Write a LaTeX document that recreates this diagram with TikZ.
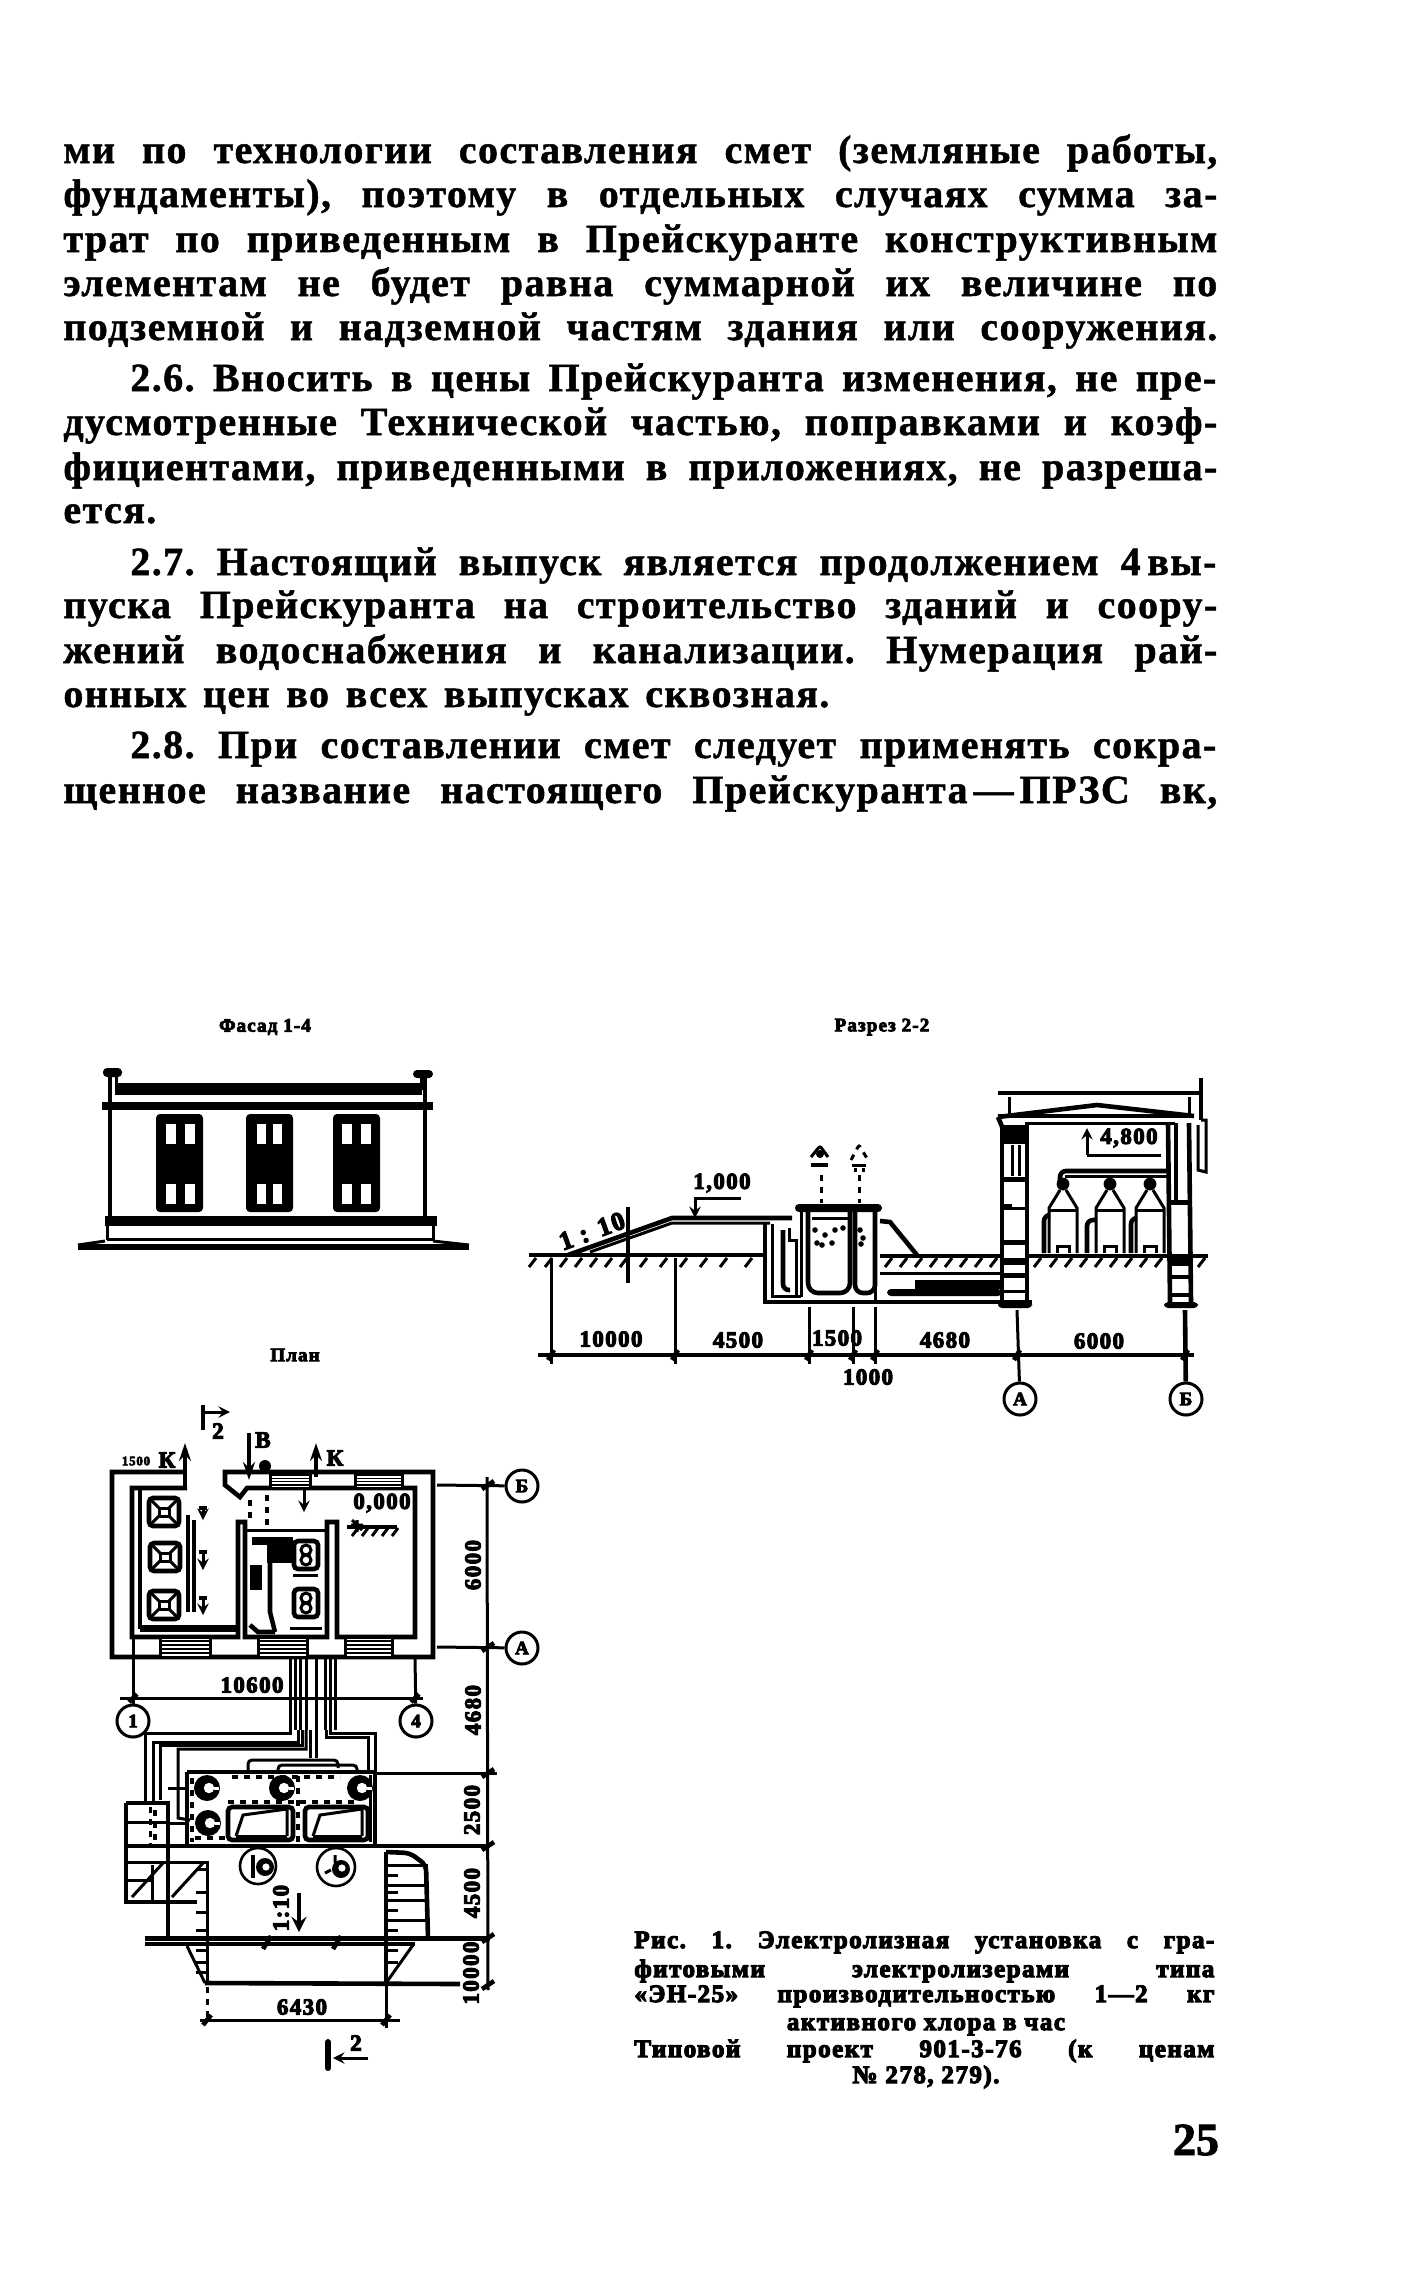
\documentclass[tikz,border=0pt]{standalone}
\usepackage{fontspec}
\setmainfont{Liberation Serif}
\newfontfamily\bodyfont[FakeBold=1.2,LetterSpace=3.5]{Liberation Serif Bold}
\newfontfamily\capfont[FakeBold=4.5,LetterSpace=6]{Liberation Serif Bold}
\newfontfamily\pagefont[FakeBold=2]{Liberation Serif Bold}
\usetikzlibrary{calc,arrows.meta}
\tikzset{>=stealth,
  thinl/.style={line width=0.8pt,black},
  med/.style={line width=1.5pt,black},
  fat/.style={line width=2.3pt,black},
  bodyrow/.style={anchor=base west,inner sep=0pt,font=\fontsize{20}{22}\bodyfont},
  caprow/.style={anchor=base west,inner sep=0pt,font=\fontsize{12.5}{14}\capfont},
  dimlabel/.style={inner sep=0pt,font=\fontsize{11.5}{12}\capfont},
  smalltitle/.style={inner sep=0pt,font=\fontsize{9.5}{10}\capfont},
  axiscircle/.style={circle,draw=black,line width=1.5pt,fill=white,minimum size=16pt,inner sep=0pt,font=\fontsize{9.5}{10}\capfont}}
\newcommand{\rowfit}[2]{\makebox[#1pt][s]{\frenchspacing #2}}

\begin{document}
\begin{tikzpicture}[x=0.5pt,y=-0.5pt]
  \useasboundingbox (0,0) rectangle (1409,2283);
  \fill[white] (0,0) rectangle (1409,2283);
  % page text
  \node[bodyrow] at (63,163) (t1) {\rowfit{577}{ми по технологии составления смет (земляные работы,}};
  \node[bodyrow] at (63,207) (t2) {\rowfit{577}{фундаменты), поэтому в отдельных случаях сумма за-}};
  \node[bodyrow] at (63,252) (t3) {\rowfit{577}{трат по приведенным в Прейскуранте конструктивным}};
  \node[bodyrow] at (63,296) (t4) {\rowfit{577}{элементам не будет равна суммарной их величине по}};
  \node[bodyrow] at (63,340) (t5) {\rowfit{577}{подземной и надземной частям здания или сооружения.}};
  \node[bodyrow] at (130,391) (t6) {\rowfit{543}{2.6. Вносить в цены Прейскуранта изменения, не пре-}};
  \node[bodyrow] at (63,435) (t7) {\rowfit{577}{дусмотренные Технической частью, поправками и коэф-}};
  \node[bodyrow] at (63,480) (t8) {\rowfit{577}{фициентами, приведенными в приложениях, не разреша-}};
  \node[bodyrow] at (63,523) (t9) {ется.};
  \node[bodyrow] at (130,575) (t10) {\rowfit{543}{2.7. Настоящий выпуск является продолжением 4\,вы-}};
  \node[bodyrow] at (63,618) (t11) {\rowfit{577}{пуска Прейскуранта на строительство зданий и соору-}};
  \node[bodyrow] at (63,663) (t12) {\rowfit{577}{жений водоснабжения и канализации. Нумерация рай-}};
  \node[bodyrow] at (63,707) (t13) {\rowfit{383}{онных цен во всех выпусках сквозная.}};
  \node[bodyrow] at (130,758) (t14) {\rowfit{543}{2.8. При составлении смет следует применять сокра-}};
  \node[bodyrow] at (63,803) (t15) {\rowfit{577}{щенное название настоящего Прейскуранта\kern3pt—\kern3pt ПРЗС вк,}};
  % caption
  \node[caprow] at (634,1948) (c1) {\rowfit{290}{Рис. 1. Электролизная установка с гра-}};
  \node[caprow] at (634,1977) (c2) {\rowfit{290}{фитовыми электролизерами типа}};
  \node[caprow] at (634,2002) (c3) {\rowfit{290}{«ЭН-25» производительностью 1—2 кг}};
  \node[caprow,anchor=base] at (926,2030) (c4) {активного хлора в час};
  \node[caprow] at (634,2057) (c5) {\rowfit{290}{Типовой проект 901-3-76 (к ценам}};
  \node[caprow,anchor=base] at (926,2083) (c6) {№ 278, 279).};
  \node[anchor=base,inner sep=0pt,font=\fontsize{23}{24}\pagefont] at (1196,2155) (pageno) {25};
  % facade
  \node[smalltitle] at (265,1027) (facadetitle) {Фасад 1-4};
  \draw[fat] (110,1072)--(110,1216);
  \draw[fat] (425,1074)--(425,1216);
  \fill[black,rounded corners=2pt] (103,1068) rectangle (122,1077);
  \fill[black,rounded corners=2pt] (413,1070) rectangle (433,1078);
  \draw[med] (116,1077)--(116,1090);
  \draw[med] (421,1078)--(421,1090);
  \fill[black] (115,1083) rectangle (422,1095);
  \fill[black] (102,1102) rectangle (433,1110);
  \fill[black] (105,1216) rectangle (437,1226);
  \draw[med] (107,1226)--(107,1240);
  \draw[med] (433,1226)--(433,1240);
  \draw[med] (107,1239)--(433,1239);
  \fill[black] (78,1244) rectangle (469,1250);
  \draw[med] (78,1245)--(105,1241);
  \draw[med] (433,1241)--(469,1245);
  \foreach \wx/\pa/\pb/\pw in {156/166/185/10,246/257/273/9,333/342/361/10}{
    \fill[black,rounded corners=2pt] (\wx,1114) rectangle (\wx+47,1212);
    \foreach \py in {1124,1184}{
      \fill[white] (\pa,\py) rectangle (\pa+\pw,\py+20);
      \fill[white] (\pb,\py) rectangle (\pb+\pw,\py+20);
    }
  }
  % section
  \node[smalltitle] at (882,1027) (sectiontitle) {Разрез 2-2};
  \draw[fat] (529,1255)--(765,1255);
  \draw[fat] (880,1256)--(1002,1256);
  \draw[fat] (1028,1256)--(1208,1256);
  \foreach \hx in {529,545,560,575,590,605,620,640,660,680,700,720,745}
    \draw[med] (\hx,1267)--(\hx+7,1258);
  \foreach \hx in {885,900,915,930,945,960,975,990,1034,1050,1065,1080,1095,1110,1125,1140,1155,1198}
    \draw[med] (\hx,1267)--(\hx+7,1258);
  \draw[fat] (568,1255)--(672,1218)--(792,1218);
  \draw[med] (590,1252)--(672,1223)--(770,1223);
  \draw[fat] (628,1207)--(628,1283);
  \node[dimlabel,rotate=20,font=\fontsize{13}{14}\capfont] at (592,1231) (slopelabel) {1 : 10};
  \node[dimlabel] at (722,1183) (levelone) {1,000};
  \draw[med,->] (741,1198)--(695,1198)--(695,1218);
  % pit and vessels
  \draw[fat] (765,1222)--(765,1302)--(1032,1302);
  \draw[med] (772,1224)--(772,1296)--(801,1296);
  \draw[fat,rounded corners=3pt] (783,1230)--(783,1290)--(790,1290);
  \draw[med] (789,1228)--(789,1240)--(796,1240)--(796,1296);
  \draw[med] (801,1212)--(801,1297);
  \draw[fat,rounded corners=5pt] (808,1212)--(808,1293)--(850,1293)--(850,1212);
  \draw[fat,rounded corners=4pt] (855,1212)--(855,1293)--(875,1293)--(875,1212);
  \draw[med] (875,1222)--(875,1302);
  \fill[black,rounded corners=2pt] (795,1204) rectangle (882,1212);
  \draw[med] (812,1218)--(850,1218);
  \foreach \bx/\by in {815/1230,825/1235,835/1230,843/1228,822/1245,832/1243,817/1243,860/1230,863/1238,861/1244}
    \fill[black] (\bx,\by) circle (1.4pt);
  \draw[fat] (880,1221)--(890,1222)--(917,1255);
  \draw[med] (880,1273)--(1002,1273);
  \fill[black,rounded corners=2pt] (887,1289) rectangle (1002,1296);
  \foreach \py in {1281,1284,1287}
    \draw[med] (915,\py)--(1002,\py);
  % vent symbols
  \draw[med,dashed] (821,1175)--(821,1203);
  \draw[med,dashed] (859,1175)--(859,1203);
  \draw[med,rounded corners=1pt] (811,1157)--(820,1146)--(828,1157);
  \fill[black] (820,1154) circle (2pt);
  \fill[black] (811,1163) rectangle (828,1167);
  \draw[med,dashed,rounded corners=1pt] (851,1160)--(859,1145)--(868,1160);
  \draw[med] (852,1165)--(866,1165);
  \draw[med,dashed] (855,1168)--(855,1172);
  \draw[med,dashed] (863,1168)--(863,1172);
  % walls
  \draw[fat] (1002,1125)--(1002,1302);
  \draw[fat] (1027,1125)--(1027,1302);
  \draw[med] (1012,1145)--(1012,1176);
  \draw[med] (1019,1145)--(1019,1176);
  \foreach \ya/\yb in {1125/1144,1177/1182,1207/1210,1240/1245,1258/1265,1273/1278,1290/1293}
    \fill[black] (1002,\ya) rectangle (1027,\yb);
  \draw[med] (1004,1205)--(1012,1205);
  \fill[black,rounded corners=2pt] (998,1302) rectangle (1032,1308);
  \draw[fat] (1168,1123)--(1170,1302);
  \draw[fat] (1176,1123)--(1176,1200);
  \draw[fat] (1189,1123)--(1191,1302);
  \foreach \ya/\yb in {1258/1266,1275/1279,1293/1297,1200/1205}
    \fill[black] (1170,\ya) rectangle (1191,\yb);
  \fill[black,rounded corners=2pt] (1164,1302) rectangle (1198,1308);
  \draw[fat] (1201,1078)--(1201,1120);
  \draw[med] (1198,1125)--(1198,1170)--(1206,1172)--(1206,1120)--(1201,1120);
  % roof
  \draw[fat] (998,1093)--(1203,1093);
  \draw[med] (1009,1097)--(1009,1115);
  \draw[med] (1189,1097)--(1189,1115);
  \draw[fat] (998,1117)--(1097,1105)--(1194,1116);
  \draw[fat] (998,1116)--(1194,1116);
  \fill[black] (1025,1122) rectangle (1175,1125);
  \draw[fat] (998,1117)--(1003,1129);
  % bottles
  \draw[med,->] (1087,1155)--(1087,1128);
  \draw[med] (1161,1155)--(1087,1155);
  \node[dimlabel] at (1129,1138) (levelroof) {4,800};
  \draw[fat,rounded corners=3pt] (1060,1185)--(1060,1171)--(1170,1171);
  \draw[med] (1065,1176)--(1170,1176);
  \foreach \bn/\bx in {1/1063,2/1110,3/1150}{
    \fill[black] (\bx,1184) circle (3.2pt);
    \draw[med] (\bx-3,1190)--(\bx-14,1208)--(\bx-14,1253);
    \draw[med] (\bx+3,1190)--(\bx+14,1208)--(\bx+14,1253);
    \draw[med] (\bx-14,1210)--(\bx+14,1210);
    \draw[med] (\bx-6,1253)--(\bx-6,1246)--(\bx+6,1246)--(\bx+6,1253);
  }
  \draw[fat,rounded corners=3pt] (1044,1253)--(1044,1215)--(1048,1215);
  \draw[fat,rounded corners=3pt] (1087,1253)--(1087,1220)--(1095,1220);
  \draw[fat,rounded corners=3pt] (1131,1253)--(1131,1218)--(1135,1218);
  % section dimensions
  \coordinate (footA) at (1017,1310);
  \coordinate (footB) at (1185,1310);
  \node[axiscircle] at (1020,1399) (axisA) {А};
  \node[axiscircle] at (1186,1399) (axisB) {Б};
  \draw[med] (footA)--(axisA);
  \draw[fat] (footB)--(axisB);
  \draw[fat] (538,1355)--(1194,1355);
  \foreach \dx/\dy in {551/1258,675/1258,809/1307,853/1307,875/1307}
    \draw[med] (\dx,\dy)--(\dx,1364);
  \foreach \dx in {551,675,809,853,875,1017,1185}
    \draw[fat] (\dx-3,1360)--(\dx+3,1350);
  \node[dimlabel] at (611,1339) (d1) {10000};
  \node[dimlabel] at (738,1340) (d2) {4500};
  \node[dimlabel] at (837,1338) (d3) {1500};
  \node[dimlabel] at (945,1340) (d4) {4680};
  \node[dimlabel] at (1099,1341) (d5) {6000};
  \node[dimlabel] at (868,1377) (d6) {1000};
  % plan
  \node[smalltitle] at (295,1355) (plantitle) {План};
  \draw[fat] (185,1472)--(112,1472)--(112,1657)--(433,1657)--(433,1472)--(225,1472)--(225,1485)--(240,1497)--(247,1488)--(415,1488)--(415,1637)--(337,1637)--(337,1522)--(327,1522)--(327,1637)--(245,1637)--(245,1522)--(238,1522)--(238,1637)--(132,1637)--(132,1488)--(187,1488);
  \draw[fat] (140,1490)--(140,1627)--(238,1627);
  \fill[black] (140,1625) rectangle (238,1632);
  \foreach \wa/\wb/\ya/\yb in {160/210/1637/1657,258/307/1637/1657,345/392/1637/1657,270/310/1472/1488,355/402/1472/1488}{
    \fill[white] (\wa,\ya) rectangle (\wb,\yb);
    \draw[med] (\wa,\ya)--(\wa,\yb);
    \draw[med] (\wb,\ya)--(\wb,\yb);
    \foreach \wf in {0.2,0.4,0.6,0.8}
      \draw[thinl] (\wa,{\ya+\wf*(\yb-\ya)})--(\wb,{\ya+\wf*(\yb-\ya)});
    \draw[med] (\wa,\ya)--(\wb,\ya);
    \draw[med] (\wa,\yb)--(\wb,\yb);
  }
  \foreach \cx/\cy in {164/1512,165/1557,164/1605}{
    \draw[fat,rounded corners=2pt] (\cx-15,\cy-14) rectangle (\cx+15,\cy+14);
    \draw[med] (\cx-5,\cy-4) rectangle (\cx+5,\cy+4);
    \draw[med] (\cx-14,\cy-13)--(\cx-5,\cy-4) (\cx+14,\cy-13)--(\cx+5,\cy-4) (\cx-14,\cy+13)--(\cx-5,\cy+4) (\cx+14,\cy+13)--(\cx+5,\cy+4);
  }
  \draw[fat] (188,1515)--(188,1612);
  \draw[fat] (194,1520)--(194,1612);
  \foreach \tya/\tyb in {1508/1520,1552/1570,1598/1615}{
    \draw[med,->] (203,\tya)--(203,\tyb);
    \draw[fat] (199,\tya)--(207,\tya);
  }
  \fill[black] (267,1537) rectangle (293,1563);
  \fill[black] (252,1537) rectangle (270,1545);
  \draw[med] (247,1530)--(325,1530);
  \draw[fat] (270,1563)--(270,1612)--(275,1632);
  \draw[fat] (250,1625)--(258,1632)--(275,1632);
  \fill[black] (250,1565) rectangle (262,1590);
  \foreach \mcy in {1555,1603}{
    \draw[fat,rounded corners=2pt] (294,\mcy-14) rectangle (318,\mcy+14);
    \draw[med] (306,\mcy-5) circle (2.5pt);
    \draw[med] (306,\mcy+5) circle (2.5pt);
  }
  \draw[med] (293,1575)--(318,1575);
  \draw[med] (290,1628)--(322,1628);
  \draw[fat,dashed] (250,1500)--(250,1520);
  \draw[fat,dashed] (267,1495)--(267,1525);
  % plan arrows
  \draw[fat,-{Stealth[length=9pt,width=6pt]}] (249,1433)--(249,1480);
  \node[dimlabel] at (263,1440) (markB) {В};
  \draw[fat,-{Stealth[length=9pt,width=6pt]}] (316,1477)--(316,1443);
  \node[dimlabel] at (335,1458) (markK) {К};
  \draw[fat,-{Stealth[length=9pt,width=6pt]}] (185,1490)--(185,1443);
  \node[dimlabel] at (167,1460) (markKleft) {К};
  \node[dimlabel,font=\fontsize{6.5}{8}\capfont] at (136,1461) (lowlevel) {1500};
  \draw[fat] (203,1405)--(203,1430);
  \draw[med,->] (203,1412)--(230,1412);
  \node[dimlabel] at (218,1431) (cutone) {2};
  \fill[black] (265,1466) circle (3pt);
  \draw[med,->] (304,1490)--(304,1512);
  \node[dimlabel] at (382,1503) (levelzero) {0,000};
  \draw[fat] (347,1527)--(397,1527);
  \foreach \hx in {352,362,372,382,392}
    \draw[med] (\hx,1536)--(\hx+6,1528);
  \draw[med] (357,1520)--(357,1532) (351,1525)--(363,1525) (352,1520)--(362,1530);
  % plan axes
  \coordinate (rowBend) at (437,1485);
  \coordinate (rowAend) at (437,1647);
  \node[axiscircle] at (522,1486) (axisBplan) {Б};
  \node[axiscircle] at (522,1648) (axisAplan) {А};
  \draw[med] (rowBend)--(axisBplan);
  \draw[med] (rowAend)--(axisAplan);
  \node[axiscircle] at (133,1721) (axisone) {1};
  \node[axiscircle] at (416,1721) (axisfour) {4};
  \coordinate (colone) at (133,1637);
  \coordinate (colfour) at (415,1657);
  \draw[med] (colone)--(axisone);
  \draw[med] (colfour)--(axisfour);
  \draw[med] (120,1698)--(423,1698);
  \foreach \dx in {133,415}
    \draw[fat] (\dx-4,1702)--(\dx+4,1694);
  \node[dimlabel] at (252,1685) (d7) {10600};
  % pipes
  \foreach \px in {290,295,300,306,316,325,330,335}
    \draw[med] (\px,1657)--(\px,1730);
  \draw[med] (290,1730)--(290,1733)--(145,1733)--(145,1803);
  \draw[med] (298,1730)--(298,1742)--(153,1742)--(153,1803);
  \draw[med] (302,1730)--(302,1745)--(160,1745)--(160,1800);
  \draw[med] (306,1730)--(306,1749)--(178,1749)--(178,1818)--(190,1820);
  \draw[med] (330,1730)--(330,1733)--(375,1733)--(375,1845);
  \draw[med] (326,1730)--(326,1737)--(368,1737)--(368,1772);
  \draw[med] (316,1730)--(316,1758);
  \draw[med] (310,1730)--(310,1758);
  \draw[med,rounded corners=2pt] (248,1772)--(248,1760)--(338,1760)--(338,1768);
  \draw[med,rounded corners=2pt] (278,1772)--(278,1765)--(357,1765)--(357,1772);
  \draw[med] (168,1788)--(187,1788);
  \draw[med] (168,1823)--(187,1823);
  % tank block
  \draw[fat] (187,1772)--(375,1772)--(375,1846);
  \draw[fat] (187,1772)--(187,1846);
  \draw[fat,dashed] (232,1777)--(340,1777);
  \draw[fat,dashed] (228,1802)--(355,1802);
  \draw[fat,dashed] (192,1778)--(192,1842);
  \draw[fat,dashed] (298,1776)--(298,1843);
  \draw[fat,dashed] (195,1838)--(225,1838);
  \draw[med] (370,1775)--(370,1842);
  \foreach \gx/\gy in {207/1788,282/1788,360/1788,208/1823}{
    \fill[black] (\gx,\gy) circle (6.5pt);
    \fill[white] (\gx+2,\gy) circle (2.6pt);
    \fill[white] (\gx+7,\gy-1) rectangle (\gx+12,\gy+2);
  }
  \foreach \ra/\rb in {228/293,305/368}{
    \draw[fat,rounded corners=2pt] (\ra,1807) rectangle (\rb,1840);
    \draw[med] (\ra+8,1836)--(\ra+15,1815)--(\rb-6,1809)--(\rb-6,1836);
    \draw[med] (\ra+8,1836)--(\rb-6,1836);
  }
  % stairs and ramps
  \draw[fat] (126,1803)--(126,1902)--(197,1902);
  \draw[fat] (126,1803)--(168,1803)--(168,1938);
  \draw[med] (126,1822)--(168,1822);
  \draw[fat] (126,1846)--(490,1846);
  \draw[med] (126,1862)--(207,1862)--(207,1983);
  \draw[med] (126,1880)--(152,1880);
  \draw[med] (152,1865)--(152,1900);
  \draw[med] (163,1863)--(132,1897);
  \draw[med] (203,1863)--(172,1897);
  \draw[med,dashed] (150,1807)--(150,1845);
  \draw[fat,dashed] (155,1810)--(155,1845);
  \foreach \ty in {1869,1892,1912,1930,1950,1962,1972}
    \draw[med] (196,\ty)--(207,\ty);
  \draw[fat] (386,1852)--(386,1983);
  \draw[fat,rounded corners=3pt] (386,1852)--(410,1853)--(426,1865)--(428,1938);
  \foreach \ty in {1865,1885,1900,1920}
    \draw[med] (386,\ty)--(428,\ty);
  \foreach \ty in {1875,1892,1910,1930,1950,1962}
    \draw[med] (386,\ty)--(398,\ty);
  \fill[black] (145,1936) rectangle (490,1941);
  \draw[fat] (145,1944)--(415,1944);
  \draw[med] (187,1946)--(205,1983);
  \draw[med] (413,1945)--(386,1983);
  \draw[fat] (205,1983)--(460,1984);
  \node[circle,draw=black,line width=1.3pt,minimum size=18pt,inner sep=0pt] at (258,1866) (fanone) {};
  \node[circle,draw=black,line width=1.3pt,minimum size=19pt,inner sep=0pt] at (336,1867) (fantwo) {};
  \draw[fat] (253,1855)--(253,1878);
  \fill[black] (265,1867) circle (4.5pt);
  \fill[white] (266,1867) circle (1.8pt);
  \draw[med] (335,1855)--(335,1863) (325,1873)--(331,1870);
  \fill[black] (341,1869) circle (4.5pt);
  \fill[white] (342,1868) circle (1.8pt);
  \node[dimlabel,rotate=90] at (281,1908) (slopeplan) {1:10};
  \draw[fat,->] (299,1893)--(299,1932);
  \foreach \sx in {267,337}
    \draw[fat] (\sx-4,1949)--(\sx+4,1936);
  % plan dimensions
  \draw[med] (487,1477)--(488,1990);
  \draw[med] (375,1773)--(497,1773);
  \foreach \dy in {1485,1647,1773,1846,1938,1985}
    \draw[fat] (482,\dy+4)--(494,\dy-4);
  \node[dimlabel,rotate=90] at (473,1565) (d8) {6000};
  \node[dimlabel,rotate=90] at (473,1710) (d9) {4680};
  \node[dimlabel,rotate=90] at (472,1810) (d10) {2500};
  \node[dimlabel,rotate=90] at (472,1893) (d11) {4500};
  \node[dimlabel,rotate=90] at (471,1973) (d12) {10000};
  \draw[med,dashed] (207,1987)--(207,2020);
  \draw[med] (386,1984)--(386,2028);
  \draw[med] (200,2020)--(400,2020);
  \foreach \dx in {207,386}
    \draw[fat] (\dx-4,2025)--(\dx+4,2015);
  \node[dimlabel] at (302,2007) (d13) {6430};
  \draw[line width=3pt,black,line cap=round] (328,2042)--(328,2068);
  \draw[med,->] (368,2058)--(333,2058);
  \node[dimlabel] at (356,2043) (cuttwo) {2};
\end{tikzpicture}
\end{document}
